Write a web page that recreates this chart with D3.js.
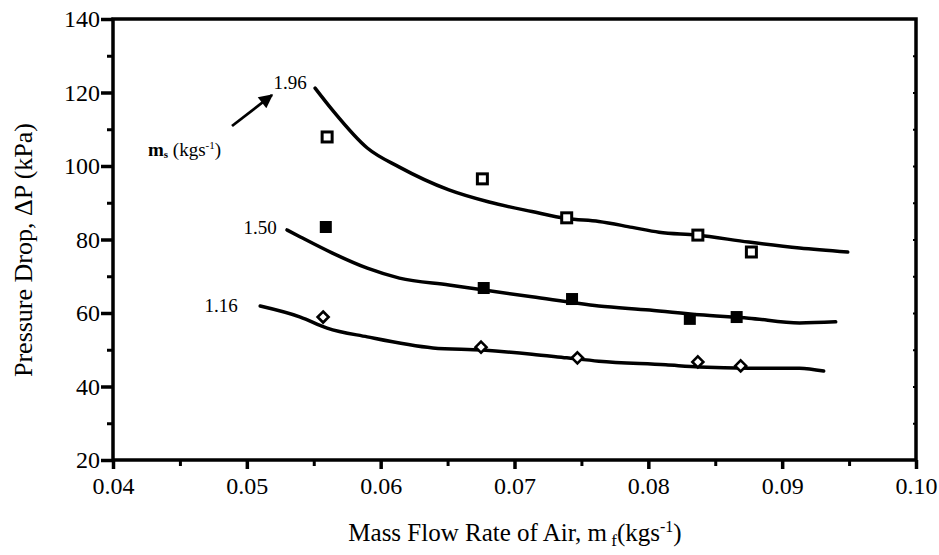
<!DOCTYPE html>
<html>
<head>
<meta charset="utf-8">
<script src="https://cdn.jsdelivr.net/npm/d3@7"></script>
<style>
  body { margin: 0; background: #fff; }
  text { font-family: "Liberation Serif", "Times New Roman", serif; fill: #000; }
</style>
</head>
<body>
<script>
// curve data (mass flow of air vs pressure drop), one per solids rate
const curveX196 = [0.0551, 0.0564, 0.0590, 0.0614, 0.0651, 0.0681, 0.0713, 0.0739, 0.0763, 0.0788, 0.0808, 0.0836, 0.0875, 0.0913, 0.0949];
const curveY196 = [121.2, 115.2, 104.9, 99.7, 93.5, 90.2, 87.6, 85.7, 84.9, 83.3, 82.0, 81.2, 79.3, 77.7, 76.6];
const curveX150 = [0.0530, 0.0540, 0.0564, 0.0590, 0.0614, 0.0651, 0.0676, 0.0713, 0.0763, 0.0801, 0.0838, 0.0875, 0.0913, 0.0940];
const curveY150 = [82.6, 80.7, 76.3, 72.2, 69.5, 67.6, 66.3, 64.4, 61.9, 60.8, 59.5, 58.6, 57.3, 57.6];
const curveX116 = [0.0510, 0.0540, 0.0560, 0.0590, 0.0639, 0.0676, 0.0713, 0.0739, 0.0763, 0.0813, 0.0838, 0.0875, 0.0913, 0.0931];
const curveY116 = [61.9, 58.9, 55.9, 53.5, 50.5, 49.9, 48.8, 47.8, 46.9, 45.9, 45.3, 45.0, 45.0, 44.2];

// measured points
const ptsX196 = [0.0560, 0.0676, 0.0739, 0.0837, 0.0877];
const ptsY196 = [107.9, 96.5, 85.9, 81.2, 76.6];
const ptsX150 = [0.0559, 0.0677, 0.0743, 0.0831, 0.0866];
const ptsY150 = [83.4, 66.8, 63.8, 58.4, 58.9];
const ptsX116 = [0.0557, 0.0675, 0.0747, 0.0837, 0.0869];
const ptsY116 = [58.9, 50.7, 47.8, 46.7, 45.6];

const xTicks = [0.04, 0.05, 0.06, 0.07, 0.08, 0.09, 0.10];
const yTicks = [20, 40, 60, 80, 100, 120, 140];
const curveLabels = ["1.96", "1.50", "1.16"];

const width = 939, height = 555;
const margin = {top: 19, right: 23, bottom: 95, left: 113};

const svg = d3.select("body").append("svg")
    .attr("width", width)
    .attr("height", height);

const xScale = d3.scaleLinear()
    .domain([0.04, 0.10])
    .range([margin.left, width - margin.right]);

const yScale = d3.scaleLinear()
    .domain([20, 140])
    .range([height - margin.bottom, margin.top]);

const x0 = xScale(0.04), x1 = xScale(0.10), y0 = yScale(20), y1 = yScale(140);

// minor ticks
svg.append("g")
    .attr("transform", "translate(0," + y0 + ")")
    .call(d3.axisBottom(xScale).tickValues(d3.range(0.045, 0.1, 0.01)).tickSize(6).tickFormat(""))
    .call(g => g.select(".domain").remove())
    .call(g => g.selectAll("line").attr("stroke-width", 3));

svg.append("g")
    .attr("transform", "translate(" + x0 + ",0)")
    .call(d3.axisLeft(yScale).tickValues(d3.range(30, 140, 20)).tickSize(6).tickFormat(""))
    .call(g => g.select(".domain").remove())
    .call(g => g.selectAll("line").attr("stroke-width", 3));

svg.append("g")
    .attr("transform", "translate(" + x1 + ",0)")
    .call(d3.axisLeft(yScale).tickValues(d3.range(30, 140, 10)).tickSize(3).tickFormat(""))
    .call(g => g.select(".domain").remove())
    .call(g => g.selectAll("line").attr("stroke-width", 2));

// major axes
var xAxis = svg.append("g")
    .attr("transform", "translate(0," + y0 + ")")
    .call(d3.axisBottom(xScale).tickValues(xTicks).tickSize(9).tickPadding(8)
        .tickFormat(d => d === 0.10 ? "0.10" : d3.format(".2f")(d)));
xAxis.select(".domain").remove();
xAxis.selectAll("line").attr("stroke-width", 3.5);
xAxis.selectAll("text").style("font-size", "24px").attr("fill", "#000");

var yAxis = svg.append("g")
    .attr("transform", "translate(" + x0 + ",0)")
    .call(d3.axisLeft(yScale).tickValues(yTicks).tickSize(12).tickPadding(1));
yAxis.select(".domain").remove();
yAxis.selectAll("line").attr("stroke-width", 3.5);
yAxis.selectAll("text").style("font-size", "24px").attr("fill", "#000").attr("dy", "0.33em");

// frame
svg.append("rect")
    .attr("x", x0).attr("y", y1)
    .attr("width", x1 - x0).attr("height", y0 - y1)
    .attr("fill", "none").attr("stroke", "#000").attr("stroke-width", 3.5);

// curves
var line = d3.line()
    .x(d => xScale(d[0]))
    .y(d => yScale(d[1]))
    .curve(d3.curveMonotoneX);

[[curveX196, curveY196], [curveX150, curveY150], [curveX116, curveY116]].forEach(function(c) {
    svg.append("path")
        .datum(d3.zip(c[0], c[1]))
        .attr("d", line)
        .attr("fill", "none")
        .attr("stroke", "#000")
        .attr("stroke-width", 3.5)
        .attr("stroke-linecap", "round");
});

// markers
svg.selectAll(".open-sq")
    .data(d3.zip(ptsX196, ptsY196))
    .enter().append("rect")
    .attr("class", "open-sq")
    .attr("x", d => xScale(d[0]) - 5)
    .attr("y", d => yScale(d[1]) - 5)
    .attr("width", 10).attr("height", 10)
    .attr("fill", "#fff").attr("stroke", "#000").attr("stroke-width", 3);

svg.selectAll(".fill-sq")
    .data(d3.zip(ptsX150, ptsY150))
    .enter().append("rect")
    .attr("class", "fill-sq")
    .attr("x", d => xScale(d[0]) - 6)
    .attr("y", d => yScale(d[1]) - 6)
    .attr("width", 12).attr("height", 12)
    .attr("fill", "#000");

svg.selectAll(".diamond")
    .data(d3.zip(ptsX116, ptsY116))
    .enter().append("path")
    .attr("class", "diamond")
    .attr("d", d => {
        var cx = xScale(d[0]), cy = yScale(d[1]), r = 5.5;
        return "M" + cx + "," + (cy - r) + "L" + (cx + r) + "," + cy + "L" + cx + "," + (cy + r) + "L" + (cx - r) + "," + cy + "Z";
    })
    .attr("fill", "#fff").attr("stroke", "#000").attr("stroke-width", 2.6);

// curve labels
svg.append("text").attr("x", 290).attr("y", 89).attr("text-anchor", "middle")
    .style("font-size", "19px").text(curveLabels[0]);
svg.append("text").attr("x", 260).attr("y", 234).attr("text-anchor", "middle")
    .style("font-size", "19px").text(curveLabels[1]);
svg.append("text").attr("x", 221).attr("y", 312).attr("text-anchor", "middle")
    .style("font-size", "19px").text(curveLabels[2]);

// arrow + m_s label
svg.append("defs").append("marker")
    .attr("id", "arrow")
    .attr("viewBox", "0 0 10 10")
    .attr("refX", 9).attr("refY", 5)
    .attr("markerWidth", 6).attr("markerHeight", 5)
    .attr("markerUnits", "strokeWidth")
    .attr("orient", "auto")
    .append("path").attr("d", "M0,0L10,5L0,10Z").attr("fill", "#000");

svg.append("line")
    .attr("x1", 232).attr("y1", 126).attr("x2", 272).attr("y2", 95)
    .attr("stroke", "#000").attr("stroke-width", 2.8)
    .attr("marker-end", "url(#arrow)");

var ms = svg.append("text").attr("x", 148).attr("y", 156).style("font-size", "19px");
ms.append("tspan").style("font-weight", "bold").text("m");
ms.append("tspan").attr("dy", 2).style("font-size", "11px").style("font-weight", "bold").text("s");
ms.append("tspan").attr("dy", -2).text(" (kgs");
ms.append("tspan").attr("dy", -7).style("font-size", "11px").text("-1");
ms.append("tspan").attr("dy", 7).text(")");

// axis titles
var xt = svg.append("text").attr("x", 515).attr("y", 541).attr("text-anchor", "middle")
    .style("font-size", "25px");
xt.append("tspan").text("Mass Flow Rate of Air, m");
xt.append("tspan").attr("dy", 5).style("font-size", "17px").text(" f");
xt.append("tspan").attr("dy", -5).text("(kgs");
xt.append("tspan").attr("dy", -9).style("font-size", "16px").text("-1");
xt.append("tspan").attr("dy", 9).text(")");

svg.append("text")
    .attr("transform", "translate(32,250) rotate(-90)")
    .attr("text-anchor", "middle")
    .style("font-size", "26px")
    .text("Pressure Drop, ΔP (kPa)");
</script>
</body>
</html>
